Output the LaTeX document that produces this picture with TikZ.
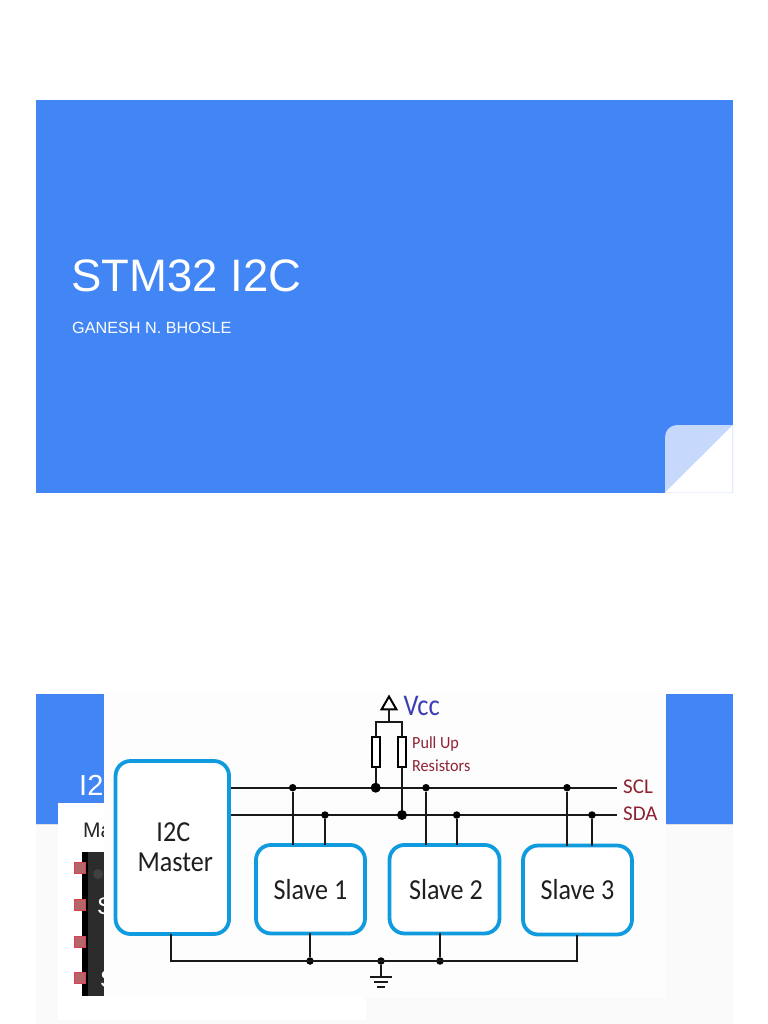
\documentclass[tikz,border=0pt]{standalone}
\usepackage{fontspec}
\setmainfont{Liberation Sans}
\newfontfamily\calib{Carlito}
\usetikzlibrary{shapes.geometric}
\definecolor{gblue}{HTML}{4285F4}
\definecolor{gfold}{HTML}{C6D9FC}
\definecolor{boxblue}{HTML}{0F9BDE}
\definecolor{imgbg}{HTML}{FDFDFD}
\definecolor{pagegrey}{HTML}{FAFAFA}
\definecolor{vccblue}{HTML}{3C3CB4}
\definecolor{wine}{HTML}{8E2233}
\definecolor{chip}{HTML}{2C2C2C}
\definecolor{pin}{HTML}{B5666A}
\definecolor{pinedge}{HTML}{D8434B}
\newcommand{\narrowtext}[1]{\scalebox{0.9}[1]{#1}}
\tikzset{
  busbox/.style={draw=boxblue,line width=3.8pt,fill=white,rounded corners=15bp,inner sep=0pt,outer sep=0pt,align=center,font=\calib\fontsize{29bp}{31bp}\selectfont,text=black!88},
  wire/.style={draw=black!90,line width=2.3pt},
  dotj/.style={circle,fill=black,inner sep=0pt,minimum size=7.5bp},
  bigj/.style={circle,fill=black,inner sep=0pt,minimum size=10bp},
  resist/.style={rectangle,draw=black,line width=2pt,fill=white,minimum width=8bp,minimum height=30bp,inner sep=0pt,outer sep=0pt},
  chiplabel/.style={font=\fontsize{24bp}{26bp}\selectfont,text=white,inner sep=0pt},
  pinbox/.style={rectangle,draw=pinedge,line width=1pt,fill=pin,minimum size=11bp,inner sep=0pt},
  ann/.style={anchor=west,inner sep=0pt,font=\calib\fontsize{17bp}{19bp}\selectfont,text=wine},
  sig/.style={anchor=west,inner sep=0pt,font=\calib\fontsize{21bp}{23bp}\selectfont,text=wine},
}
\begin{document}
\begin{tikzpicture}[x=1bp,y=-1bp]
\useasboundingbox (0,0) rectangle (768,1024);
\fill[white] (0,0) rectangle (768,1024);
% first slide
\fill[gblue] (36,100) rectangle (733,492.5);
\begin{scope}
\clip (665,425) rectangle (733,492.5);
\fill[gfold,rounded corners=12bp] (665,520) -- (665,425) -- (760,425) -- (760,520) -- cycle;
\end{scope}
\fill[white] (733,425) -- (733,492.5) -- (665,492.5) -- cycle;
\fill[gfold!50] (732.2,425) rectangle (733,492.5);
\node[anchor=base west,inner sep=0pt,text=white,font=\fontsize{45.5bp}{48bp}\selectfont] (title) at (71,291) {STM32 I2C};
\node[anchor=base west,inner sep=0pt,text=white,font=\fontsize{16.2bp}{18bp}\selectfont] (author) at (72,333) {GANESH N. BHOSLE};
% second slide
\fill[pagegrey] (36,823) rectangle (733,1024);
\fill[black!12] (36,823) rectangle (733,824.5);
\fill[gblue] (36,694) rectangle (733,823.5);
\fill[white] (57.5,803) rectangle (366,1020);
\begin{scope}
\clip (0,690) rectangle (104,1024);
\node[anchor=base west,inner sep=0pt,text=white,font=\fontsize{29bp}{31bp}\selectfont] (slidehead) at (79,795) {I2};
\node[anchor=base west,inner sep=0pt,text=black!85,font=\fontsize{21bp}{23bp}\selectfont] (cardhead) at (83,837) {Ma};
\fill[chip] (82,852) rectangle (104,996);
\fill[black] (82,852) rectangle (88,996);
\fill[black!75] (98,874) circle (5);
\node[chiplabel,anchor=west] (chipa) at (97,906) {S};
\node[chiplabel,anchor=west] (chipb) at (100,979) {S};
\end{scope}
\foreach \n/\y in {a/868,b/905,c/942,d/978}
  \node[pinbox] (pin\n) at (79.5,\y) {};
% overlaid picture
\fill[imgbg] (104,694) rectangle (666,998);
% rails
\coordinate (sclstart) at (231,787.7);
\coordinate (sdastart) at (231,815);
\coordinate (sclend) at (617,787.7);
\coordinate (sdaend) at (617,815);
\draw[wire] (sclstart) -- (sclend);
\draw[wire] (sdastart) -- (sdaend);
% blocks
\node[busbox,minimum width=113.5bp,minimum height=173bp] (master) at (172.3,847.5) {\narrowtext{I2C}\hspace*{-2bp}\\[-1bp]\hspace*{6bp}\narrowtext{Master}};
\node[busbox,minimum width=109bp,minimum height=88.5bp] (slave1) at (310.5,889.2) {\narrowtext{Slave 1}};
\node[busbox,minimum width=110bp,minimum height=88.5bp] (slave2) at (444.5,889.2) {\hspace*{3bp}\narrowtext{Slave 2}};
\node[busbox,minimum width=109bp,minimum height=89bp] (slave3) at (577.5,890) {\narrowtext{Slave 3}};
% junctions
\node[dotj] (s1c) at (292.7,787.7) {};
\node[dotj] (s1d) at (325,815) {};
\node[dotj] (s2c) at (426,787.7) {};
\node[dotj] (s2d) at (456.7,815) {};
\node[dotj] (s3c) at (567,787.7) {};
\node[dotj] (s3d) at (592,815) {};
\draw[wire] (s1c) -- (s1c |- slave1.north);
\draw[wire] (s1d) -- (s1d |- slave1.north);
\draw[wire] (s2c) -- (s2c |- slave2.north);
\draw[wire] (s2d) -- (s2d |- slave2.north);
\draw[wire] (s3c) -- (s3c |- slave3.north);
\draw[wire] (s3d) -- (s3d |- slave3.north);
% pull-ups
\node[regular polygon,regular polygon sides=3,draw=black,line width=2pt,fill=white,inner sep=0pt,outer sep=0pt,minimum size=17bp] (vcc) at (389,705) {};
\coordinate (vcctee) at (389,722);
\node[bigj] (pc) at (375.7,787.7) {};
\node[bigj] (pd) at (402,815) {};
\coordinate (pltop) at (375.7,722);
\coordinate (prtop) at (402,722);
\node[resist] (r1) at (375.7,752) {};
\node[resist] (r2) at (402,752) {};
\draw[wire] (vcc.south) -- (vcctee);
\draw[wire,line cap=rect] (pltop) -- (prtop);
\draw[wire] (pltop) -- (r1.north);
\draw[wire] (prtop) -- (r2.north);
\draw[wire] (r1.south) -- (pc);
\draw[wire] (r2.south) -- (pd);
% ground bus
\node[dotj] (g1) at (310,961) {};
\node[dotj] (g2) at (440,961) {};
\node[dotj] (gg) at (381,961) {};
\coordinate (gm) at (171,961);
\coordinate (g3) at (577,961);
\draw[wire] (gm |- master.south) -- (gm);
\draw[wire,line cap=rect] (gm) -- (g3);
\draw[wire] (g1) -- (g1 |- slave1.south);
\draw[wire] (g2) -- (g2 |- slave2.south);
\draw[wire] (g3) -- (g3 |- slave3.south);
\coordinate (earth) at (381,977);
\draw[wire] (gg) -- (earth);
\draw[wire] (370,977) -- (392,977);
\draw[wire] (374,982) -- (388,982);
\draw[wire] (377,987) -- (385,987);
% labels
\node[anchor=west,inner sep=0pt,font=\calib\fontsize{30bp}{31bp}\selectfont,text=vccblue] (vcctext) at (403.5,706) {\scalebox{0.88}[1]{Vcc}};
\node[ann] (pull1) at (412,743.5) {\scalebox{0.95}[1]{Pull Up}};
\node[ann] (pull2) at (412,765.5) {\scalebox{0.95}[1]{Resistors}};
\node[sig] (scl) at (623,786.5) {SCL};
\node[sig] (sda) at (623,813.5) {SDA};
\end{tikzpicture}
\end{document}
